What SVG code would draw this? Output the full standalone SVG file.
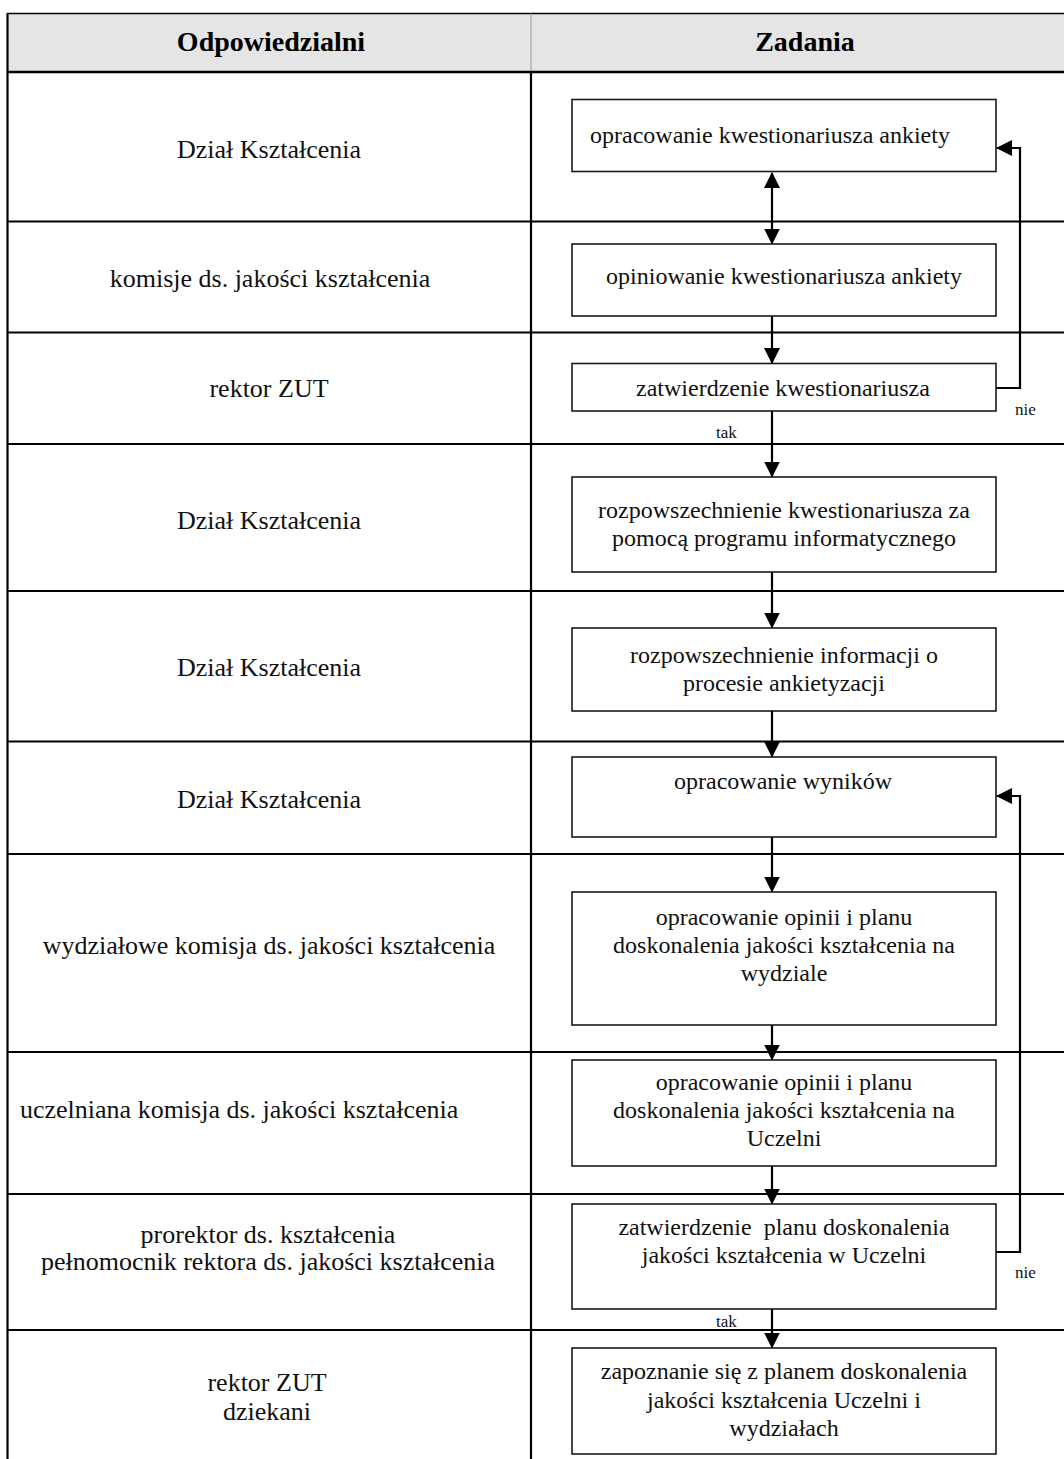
<svg xmlns="http://www.w3.org/2000/svg" width="1064" height="1459" viewBox="0 0 1064 1459">
  <style>
    .grid { stroke: #000; stroke-width: 2.2; fill: none; }
    .box { fill: #fff; stroke: #1a1a1a; stroke-width: 1.6; }
    .who { font-family: "Liberation Serif", "Times New Roman", serif; font-size: 26px; fill: #111; text-anchor: middle; }
    .who-left { font-family: "Liberation Serif", "Times New Roman", serif; font-size: 26px; fill: #111; text-anchor: start; }
    .task { font-family: "Liberation Serif", "Times New Roman", serif; font-size: 24px; fill: #111; text-anchor: middle; }
    .head { font-family: "Liberation Serif", "Times New Roman", serif; font-size: 28px; font-weight: bold; fill: #000; text-anchor: middle; }
    .lbl { font-family: "Liberation Serif", "Times New Roman", serif; font-size: 17px; fill: #111; }
    .flow { stroke: #000; stroke-width: 2.2; fill: none; }
  </style>
  <defs>
    <marker id="head" viewBox="0 0 16 16" refX="15" refY="8" markerWidth="16" markerHeight="16" markerUnits="userSpaceOnUse" orient="auto-start-reverse">
      <path d="M0,0 L16,8 L0,16 Z" fill="#000"/>
    </marker>
  </defs>

  <rect width="1064" height="1459" fill="#fff"/>

  <!-- table frame -->
  <g id="table">
    <rect x="7.5" y="13.5" width="1070" height="58.5" fill="#e5e5e5"/>
    <line x1="7.5" y1="13.5" x2="1064" y2="13.5" stroke="#000" stroke-width="1.5"/>
    <line x1="531" y1="13.5" x2="531" y2="72" stroke="#a8a8a8" stroke-width="1.2"/>
    <line x1="7.5" y1="72" x2="1064" y2="72" stroke="#000" stroke-width="2.6"/>
    <line class="grid" x1="7.5" y1="13" x2="7.5" y2="1459"/>
    <line class="grid" x1="531" y1="72" x2="531" y2="1459"/>
    <line class="grid" x1="7.5" y1="221.5" x2="1064" y2="221.5"/>
    <line class="grid" x1="7.5" y1="332.5" x2="1064" y2="332.5"/>
    <line class="grid" x1="7.5" y1="444" x2="1064" y2="444"/>
    <line class="grid" x1="7.5" y1="591" x2="1064" y2="591"/>
    <line class="grid" x1="7.5" y1="741.5" x2="1064" y2="741.5"/>
    <line class="grid" x1="7.5" y1="854" x2="1064" y2="854"/>
    <line class="grid" x1="7.5" y1="1052" x2="1064" y2="1052"/>
    <line class="grid" x1="7.5" y1="1194" x2="1064" y2="1194"/>
    <line class="grid" x1="7.5" y1="1330" x2="1064" y2="1330"/>
    <text class="head" x="271" y="51">Odpowiedzialni</text>
    <text class="head" x="805" y="51">Zadania</text>
  </g>

  <!-- responsible parties -->
  <g id="who">
    <text class="who" x="269" y="158">Dział Kształcenia</text>
    <text class="who" x="270" y="287">komisje ds. jakości kształcenia</text>
    <text class="who" x="269" y="397">rektor ZUT</text>
    <text class="who" x="269" y="529">Dział Kształcenia</text>
    <text class="who" x="269" y="676">Dział Kształcenia</text>
    <text class="who" x="269" y="808">Dział Kształcenia</text>
    <text class="who" x="269" y="954">wydziałowe komisja ds. jakości kształcenia</text>
    <text class="who-left" x="20" y="1118">uczelniana komisja ds. jakości kształcenia</text>
    <text class="who" x="268" y="1243">prorektor ds. kształcenia</text>
    <text class="who" x="268" y="1270">pełnomocnik rektora ds. jakości kształcenia</text>
    <text class="who" x="267" y="1391">rektor ZUT</text>
    <text class="who" x="267" y="1420">dziekani</text>
  </g>

  <!-- task boxes -->
  <g id="t1">
    <rect class="box" x="572" y="99.5" width="424" height="72"/>
    <text class="task" x="770" y="143">opracowanie kwestionariusza ankiety</text>
  </g>
  <g id="t2">
    <rect class="box" x="572" y="244" width="424" height="72"/>
    <text class="task" x="784" y="284">opiniowanie kwestionariusza ankiety</text>
  </g>
  <g id="t3">
    <rect class="box" x="572" y="363.5" width="424" height="47.5"/>
    <text class="task" x="783" y="396">zatwierdzenie kwestionariusza</text>
  </g>
  <g id="t4">
    <rect class="box" x="572" y="477" width="424" height="95"/>
    <text class="task" x="784" y="518">rozpowszechnienie kwestionariusza za</text>
    <text class="task" x="784" y="546">pomocą programu informatycznego</text>
  </g>
  <g id="t5">
    <rect class="box" x="572" y="628" width="424" height="83"/>
    <text class="task" x="784" y="663">rozpowszechnienie informacji o</text>
    <text class="task" x="784" y="691">procesie ankietyzacji</text>
  </g>
  <g id="t6">
    <rect class="box" x="572" y="757" width="424" height="80"/>
    <text class="task" x="783" y="789">opracowanie wyników</text>
  </g>
  <g id="t7">
    <rect class="box" x="572" y="892" width="424" height="133"/>
    <text class="task" x="784" y="925">opracowanie opinii i planu</text>
    <text class="task" x="784" y="953">doskonalenia jakości kształcenia na</text>
    <text class="task" x="784" y="981">wydziale</text>
  </g>
  <g id="t8">
    <rect class="box" x="572" y="1060" width="424" height="106"/>
    <text class="task" x="784" y="1090">opracowanie opinii i planu</text>
    <text class="task" x="784" y="1118">doskonalenia jakości kształcenia na</text>
    <text class="task" x="784" y="1146">Uczelni</text>
  </g>
  <g id="t9">
    <rect class="box" x="572" y="1204" width="424" height="105"/>
    <text class="task" x="784" y="1235" xml:space="preserve">zatwierdzenie  planu doskonalenia</text>
    <text class="task" x="784" y="1263">jakości kształcenia w Uczelni</text>
  </g>
  <g id="t10">
    <rect class="box" x="572" y="1348" width="424" height="106"/>
    <text class="task" x="784" y="1379">zapoznanie się z planem doskonalenia</text>
    <text class="task" x="784" y="1408">jakości kształcenia Uczelni i</text>
    <text class="task" x="784" y="1436">wydziałach</text>
  </g>

  <!-- connectors -->
  <g id="connectors">
    <line class="flow" x1="772" y1="173" x2="772" y2="243.5" marker-start="url(#head)" marker-end="url(#head)"/>
    <line class="flow" x1="772" y1="316" x2="772" y2="363" marker-end="url(#head)"/>
    <line class="flow" x1="772" y1="411" x2="772" y2="476.5" marker-end="url(#head)"/>
    <polyline class="flow" points="996,388 1020,388 1020,148 997,148" marker-end="url(#head)"/>
    <line class="flow" x1="772" y1="572" x2="772" y2="627.5" marker-end="url(#head)"/>
    <line class="flow" x1="772" y1="711" x2="772" y2="756.5" marker-end="url(#head)"/>
    <line class="flow" x1="772" y1="837" x2="772" y2="891.5" marker-end="url(#head)"/>
    <line class="flow" x1="772" y1="1025" x2="772" y2="1059.5" marker-end="url(#head)"/>
    <line class="flow" x1="772" y1="1166" x2="772" y2="1203.5" marker-end="url(#head)"/>
    <line class="flow" x1="772" y1="1309" x2="772" y2="1347.5" marker-end="url(#head)"/>
    <polyline class="flow" points="996,1252 1020,1252 1020,796 997,796" marker-end="url(#head)"/>
    <text class="lbl" x="716" y="438">tak</text>
    <text class="lbl" x="1015" y="415">nie</text>
    <text class="lbl" x="716" y="1327">tak</text>
    <text class="lbl" x="1015" y="1278">nie</text>
  </g>
</svg>
